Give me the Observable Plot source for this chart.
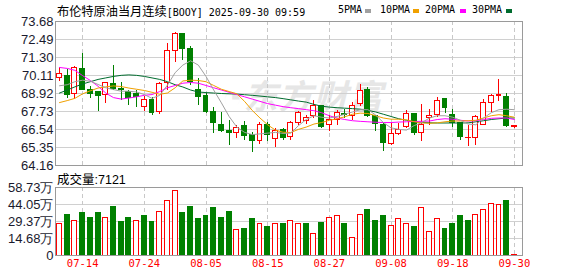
<!DOCTYPE html>
<html><head><meta charset="utf-8">
<script src="https://cdn.jsdelivr.net/npm/d3@7"></script>
<script src="https://cdn.jsdelivr.net/npm/@observablehq/plot@0.6"></script>
<style>
body{margin:0;background:#fff;width:578px;height:276px;overflow:hidden;position:relative;font-family:"Liberation Sans",Arial,sans-serif;}
.abs{position:absolute;white-space:nowrap;}
#title{left:57px;top:2px;font-size:12px;color:#000;}
#title .cn{font-family:"Noto Sans CJK SC";font-size:12.2px;}
#title .en{font-family:"DejaVu Sans Mono";font-size:10px;}
.lg{font-family:"DejaVu Sans Mono";font-size:10px;top:4px;color:#000;}
.sw{top:9px;width:6px;height:4px;}
#vlab{left:57px;top:169px;font-size:12px;}
#vlab .cn{font-family:"Noto Sans CJK SC";font-size:12.5px;}
#vlab .en{font-family:"Liberation Sans";font-size:12.5px;}
#wm{left:222px;top:70px;font-family:"Noto Sans CJK SC";font-weight:700;font-size:34px;color:#e6e6e6;letter-spacing:1px;font-style:italic;}
#main{left:0;top:0;}
#vol{left:0;top:170px;}
svg rect, svg line{shape-rendering:crispEdges;}
</style></head>
<body>
<div id="wm" class="abs">◔东方财富</div>
<div id="main" class="abs"></div>
<div id="vol" class="abs"></div>
<div id="title" class="abs"><span class="cn">布伦特原油当月连续</span><span class="en">[BOOY] 2025-09-30 09:59</span></div>
<div class="abs lg" style="left:338px">5PMA</div><div class="abs sw" style="left:365px;background:#a0a0a0"></div>
<div class="abs lg" style="left:380px">10PMA</div><div class="abs sw" style="left:413px;background:#f0a000"></div>
<div class="abs lg" style="left:425px">20PMA</div><div class="abs sw" style="left:460px;background:#ff00ff"></div>
<div class="abs lg" style="left:472px">30PMA</div><div class="abs sw" style="left:506px;background:#006b2e"></div>
<div id="vlab" class="abs"><span class="cn">成交量</span><span class="en">:7121</span></div>
<script>
const dates = ["07-09","07-10","07-11","07-14","07-15","07-16","07-17","07-18","07-21","07-22","07-23","07-24","07-25","07-28","07-29","07-30","07-31","08-01","08-04","08-05","08-06","08-07","08-08","08-11","08-12","08-13","08-14","08-15","08-18","08-19","08-20","08-21","08-22","08-25","08-26","08-27","08-28","08-29","09-01","09-02","09-03","09-04","09-05","09-08","09-09","09-10","09-11","09-12","09-15","09-16","09-17","09-18","09-19","09-22","09-23","09-24","09-25","09-26","09-29","09-30"];
const open  = [69.96,70.06,68.92,70.51,69.18,68.99,68.85,69.56,69.19,68.99,68.92,68.04,68.50,67.71,69.63,71.74,72.84,71.83,69.14,68.74,67.71,66.87,66.41,66.28,66.79,66.16,65.77,66.87,65.88,66.54,66.06,66.98,67.11,67.42,68.11,66.87,67.16,67.58,67.42,68.21,69.14,67.42,66.83,65.55,66.23,66.72,67.55,66.28,67.33,67.49,68.54,67.49,66.98,65.98,65.99,66.87,68.31,68.78,68.66,66.72];
const high  = [70.64,70.53,70.72,71.58,69.36,69.00,69.65,70.77,69.65,69.12,69.14,68.70,68.64,69.65,72.23,72.93,72.86,72.01,69.91,68.92,68.01,67.64,67.16,66.79,67.05,66.32,67.00,67.00,66.61,66.61,67.05,67.75,67.45,68.46,68.15,67.49,67.80,67.88,68.32,69.52,69.32,67.45,66.96,66.94,66.94,67.82,67.60,68.19,67.88,68.66,68.59,67.88,66.98,66.79,67.49,68.52,68.85,69.85,68.92,66.79];
const low   = [69.69,68.59,68.54,69.12,68.59,67.75,68.26,69.12,68.48,68.15,68.00,67.71,67.49,67.55,69.14,70.95,71.12,69.47,68.15,67.60,66.28,66.32,65.50,65.95,65.83,65.00,65.55,65.73,65.33,65.83,65.83,66.83,66.87,67.27,66.61,66.39,66.83,67.27,67.16,68.04,67.31,66.39,65.07,65.50,66.12,66.61,66.16,65.73,66.79,67.31,67.60,66.67,65.83,65.40,65.50,66.79,67.66,68.37,66.65,66.63];
const close = [70.18,68.85,70.62,69.18,68.87,68.74,69.63,69.25,69.14,68.64,68.70,68.52,67.60,69.58,71.74,72.84,71.85,69.65,68.70,67.68,66.98,66.43,66.32,66.67,66.10,65.77,66.87,66.16,66.43,65.99,66.98,67.64,67.27,68.11,66.69,67.20,67.64,67.47,68.11,69.07,67.45,66.89,65.68,66.21,66.54,67.55,66.32,66.83,67.45,68.44,67.97,66.98,66.02,66.00,67.38,68.26,68.77,68.81,66.74,66.76];
const volume = [27.4,35.4,29.4,37.1,32.0,37.1,32.6,42.3,28.8,32.0,29.4,34.5,28.8,38.0,47.2,55.3,36.3,42.3,31.1,33.7,40.6,32.8,38.0,22.2,23.3,31.1,27.6,25.0,27.6,26.8,29.4,26.8,27.6,18.7,28.5,32.8,33.7,26.8,15.5,35.4,39.7,30.2,33.7,25.9,31.1,27.6,25.0,40.6,20.7,31.1,23.3,26.8,33.7,30.2,35.4,39.7,44.9,44.0,47.5,0.71];
const ma5  = [69.43,69.50,69.70,69.80,69.73,69.52,69.30,69.18,69.07,69.07,69.02,68.85,68.60,68.80,69.47,70.30,70.80,71.08,70.80,70.05,69.15,68.30,67.40,66.70,66.35,66.20,66.25,66.30,66.35,66.28,66.30,66.80,67.20,67.45,67.35,67.30,67.40,67.55,67.70,67.85,67.85,67.50,67.00,66.65,66.55,66.50,66.80,67.00,67.30,67.45,67.45,67.35,67.15,66.90,66.85,67.30,67.65,67.85,67.88,67.85];
const ma10 = [68.32,68.45,68.60,68.90,69.10,69.28,69.36,69.42,69.38,69.28,69.20,69.12,69.00,68.87,68.95,69.30,69.75,69.80,69.78,69.70,69.45,69.20,69.05,68.90,68.40,67.80,67.30,66.85,66.50,66.36,66.34,66.55,66.70,66.90,67.00,67.15,67.25,67.38,67.55,67.62,67.60,67.45,67.30,67.22,67.22,67.18,67.05,66.98,66.95,66.98,67.05,67.10,67.10,67.12,67.15,67.30,67.45,67.52,67.45,67.35];
const ma20 = [70.64,70.58,70.45,70.10,69.78,69.40,68.95,68.65,68.55,68.62,68.70,68.80,68.85,69.05,69.30,69.45,69.60,69.65,69.60,69.45,69.30,69.15,69.00,68.85,68.70,68.55,68.40,68.25,68.15,68.05,67.98,67.92,67.85,67.78,67.65,67.45,67.30,67.20,67.12,67.08,67.05,67.02,67.00,67.00,67.03,67.05,67.07,67.08,67.10,67.20,67.25,67.22,67.15,67.10,67.12,67.20,67.28,67.30,67.30,67.20];
const ma30 = [68.95,69.15,69.36,69.55,69.70,69.85,69.95,70.05,70.12,70.15,70.12,70.05,69.95,69.85,69.70,69.50,69.35,69.15,69.02,68.98,68.95,68.92,68.90,68.88,68.84,68.80,68.75,68.70,68.65,68.58,68.50,68.42,68.35,68.20,68.08,68.02,67.98,67.95,67.92,67.88,67.80,67.70,67.55,67.40,67.25,67.15,67.05,67.00,66.98,66.97,66.97,66.97,66.97,66.98,67.05,67.12,67.20,67.25,67.30,67.30];
const priceTicks = [64.16,65.35,66.54,67.73,68.92,70.11,71.30,72.49,73.68];
const volTicks = [0,14.68,29.37,44.05,58.73];
const labelDates = ["07-14","07-24","08-05","08-15","08-27","09-08","09-18","09-30"];

const idx = d3.range(dates.length);
const labelIdx = labelDates.map(d => dates.indexOf(d));
const upIdx = idx.filter(i => close[i] >= open[i]);
const downIdx = idx.filter(i => close[i] < open[i]);
const volUp = idx.filter(i => i === 0 || close[i] >= close[i-1]);
const volDown = idx.filter(i => !(i === 0 || close[i] >= close[i-1]));
const xDomain = [-0.52, 60.05];
const RED = "#ff0000", GREEN = "#008000", GRID = "#d0d0d0", FRAME = "#9a9a9a";
const hw = 0.32;

const main = Plot.plot({
  width: 578, height: 170,
  marginLeft: 55, marginRight: 56, marginTop: 21, marginBottom: 5,
  x: {type: "linear", domain: xDomain, axis: null},
  y: {type: "linear", domain: [64.16, 73.68], axis: null},
  style: {background: "transparent", fontFamily: "Liberation Sans", fontSize: "13px", overflow: "visible"},
  marks: [
    Plot.ruleY(priceTicks.slice(1, -1), {stroke: GRID}),
    Plot.ruleX(labelIdx, {stroke: "#c8c8c8", strokeDasharray: "4,3"}),
    Plot.ruleX(upIdx, {x: i => i, y1: i => low[i], y2: i => high[i], stroke: RED}),
    Plot.ruleX(downIdx, {x: i => i, y1: i => low[i], y2: i => high[i], stroke: GREEN}),
    Plot.rect(upIdx, {x1: i => i - hw, x2: i => i + hw, y1: i => open[i], y2: i => close[i], fill: "white", stroke: RED}),
    Plot.rect(downIdx, {x1: i => i - hw, x2: i => i + hw, y1: i => open[i], y2: i => close[i], fill: GREEN, stroke: GREEN}),
    Plot.line(idx, {x: i => i, y: i => ma30[i], stroke: "#006b2e", strokeWidth: 1}),
    Plot.line(idx, {x: i => i, y: i => ma20[i], stroke: "#ff00ff", strokeWidth: 1}),
    Plot.line(idx, {x: i => i, y: i => ma10[i], stroke: "#f0a000", strokeWidth: 1}),
    Plot.line(idx, {x: i => i, y: i => ma5[i], stroke: "#a0a0a0", strokeWidth: 1}),
    Plot.frame({stroke: FRAME}),
    Plot.text(priceTicks, {y: d => d, frameAnchor: "left", textAnchor: "end", dx: -2, text: d => d.toFixed(2), fill: "#1a1a2e"})
  ]
});
document.getElementById("main").appendChild(main);

const vol = Plot.plot({
  width: 578, height: 106,
  marginLeft: 55, marginRight: 56, marginTop: 17, marginBottom: 21,
  x: {type: "linear", domain: xDomain, axis: null},
  y: {type: "linear", domain: [0, 58.73], axis: null},
  style: {background: "transparent", fontFamily: "Liberation Sans", fontSize: "13px", overflow: "visible"},
  marks: [
    Plot.ruleY(volTicks.slice(1, -1), {stroke: GRID}),
    Plot.ruleX(labelIdx, {stroke: "#c8c8c8", strokeDasharray: "4,3"}),
    Plot.rect(volUp, {x1: i => i - hw, x2: i => i + hw, y1: 0, y2: i => volume[i], fill: "white", stroke: RED}),
    Plot.rect(volDown, {x1: i => i - hw, x2: i => i + hw, y1: 0, y2: i => volume[i], fill: GREEN, stroke: GREEN}),
    Plot.frame({stroke: FRAME}),
    Plot.text(volTicks, {y: d => d, frameAnchor: "left", textAnchor: "end", dx: -2, text: d => d === 0 ? "0" : d.toFixed(2) + "万", fill: "#1a1a2e"}),
    Plot.text(labelIdx, {x: d => d, frameAnchor: "bottom", dy: 11, text: d => dates[d], fill: RED, fontFamily: "DejaVu Sans Mono", fontSize: 10.5})
  ]
});
document.getElementById("vol").appendChild(vol);
</script>
</body></html>
